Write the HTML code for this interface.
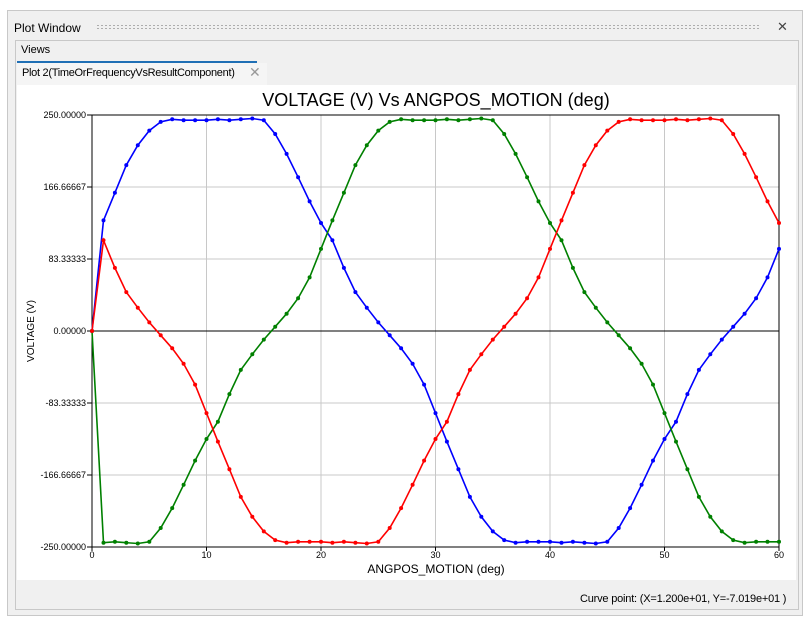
<!DOCTYPE html>
<html><head><meta charset="utf-8"><style>
body{margin:0;width:809px;height:627px;background:#fff;font-family:"Liberation Sans",sans-serif;overflow:hidden;position:relative}
.win{position:absolute;left:7px;top:10px;width:794px;height:604px;border:1px solid #c8c8c8;background:#f0f0f0}
.t{position:absolute;font-size:12px;color:#000}
</style></head><body>
<div class="win"></div>
<div class="t" style="left:14px;top:21px">Plot Window</div>
<div style="position:absolute;left:96px;top:24px;width:664px;height:6px;background-image:radial-gradient(#aaa 0.8px,transparent 1px);background-size:4px 3px"></div>
<div class="t" style="left:777px;top:19px;font-size:13px;color:#444">✕</div>
<div style="position:absolute;left:15px;top:40px;width:782px;height:568px;border:1px solid #c8c8c8;background:#f0f0f0"></div>
<div class="t" style="left:21px;top:44px;font-size:11px">Views</div>
<div style="position:absolute;left:17px;top:61px;width:240px;height:2px;background:#1f6fb5"></div>
<div style="position:absolute;left:17px;top:63px;width:250px;height:22px;background:#f5f5f5"></div>
<div class="t" style="left:22px;top:67px;font-size:11px;letter-spacing:-0.3px">Plot 2(TimeOrFrequencyVsResultComponent)</div>
<div class="t" style="left:249px;top:64px;font-size:14px;color:#999">✕</div>
<div style="position:absolute;left:17px;top:85px;width:779px;height:495px;background:#fff"></div>
<svg id="s" width="809" height="627" style="position:absolute;left:0;top:0" font-family="Liberation Sans, sans-serif"></svg>
<div class="t" style="left:580px;top:593px;font-size:11px;letter-spacing:-0.2px">Curve point: (X=1.200e+01, Y=-7.019e+01 )</div>
<script>
var X=t=>92+t*687/60, Y=v=>331-v*0.864;
var h='';
h+='<text x="436" y="106" font-size="18" text-anchor="middle">VOLTAGE (V) Vs ANGPOS_MOTION (deg)</text>';
for(var i=1;i<6;i++)h+='<line x1="'+X(i*10)+'" y1="115" x2="'+X(i*10)+'" y2="547" stroke="#c8c8c8"/>';
[166.667,83.333,-83.333,-166.667].forEach(v=>h+='<line x1="92" y1="'+Y(v)+'" x2="779" y2="'+Y(v)+'" stroke="#c8c8c8"/>');
h+='<line x1="92" y1="331" x2="779" y2="331" stroke="#000"/>';
h+='<rect x="92" y="115" width="687" height="432" fill="none" stroke="#000"/>';
var yl=['250.00000','166.66667','83.33333','0.00000','-83.33333','-166.66667','-250.00000'];
yl.forEach((l,i)=>{var y=115+i*72;h+='<text x="86" y="'+(y+3)+'" font-size="9" text-anchor="end">'+l+'</text><line x1="87" y1="'+y+'" x2="92" y2="'+y+'" stroke="#000"/>';});
for(var i=0;i<=6;i++)h+='<text x="'+X(i*10)+'" y="558" font-size="9" text-anchor="middle">'+i*10+'</text><line x1="'+X(i*10)+'" y1="547" x2="'+X(i*10)+'" y2="551" stroke="#000"/>';
h+='<text x="436" y="573" font-size="12" text-anchor="middle">ANGPOS_MOTION (deg)</text>';
h+='<text transform="translate(34,331) rotate(-90)" font-size="10" text-anchor="middle">VOLTAGE (V)</text>';
var k=[95,128,160,192,215,232,242,245,244,244,244,245,244,245,246,244,228,205,178,150,125,105,73,45,27,10,-5,-20,-38,-62];
function b(t){t=((t%60)+60)%60;return t<30?k[t]:-k[t-30];}
[['#0000ff',0],['#008000',-20],['#ff0000',20]].forEach(c=>{var p=[];for(var t=0;t<=60;t++){var v=t==0?0:b(t+c[1]);p.push(X(t).toFixed(1)+','+Y(v).toFixed(1));}
h+='<polyline points="'+p.join(' ')+'" fill="none" stroke="'+c[0]+'" stroke-width="1.6"/>';
p.forEach(q=>{var a=q.split(',');h+='<circle cx="'+a[0]+'" cy="'+a[1]+'" r="2" fill="'+c[0]+'"/>';});});
document.getElementById('s').innerHTML=h;
</script>
</body></html>
